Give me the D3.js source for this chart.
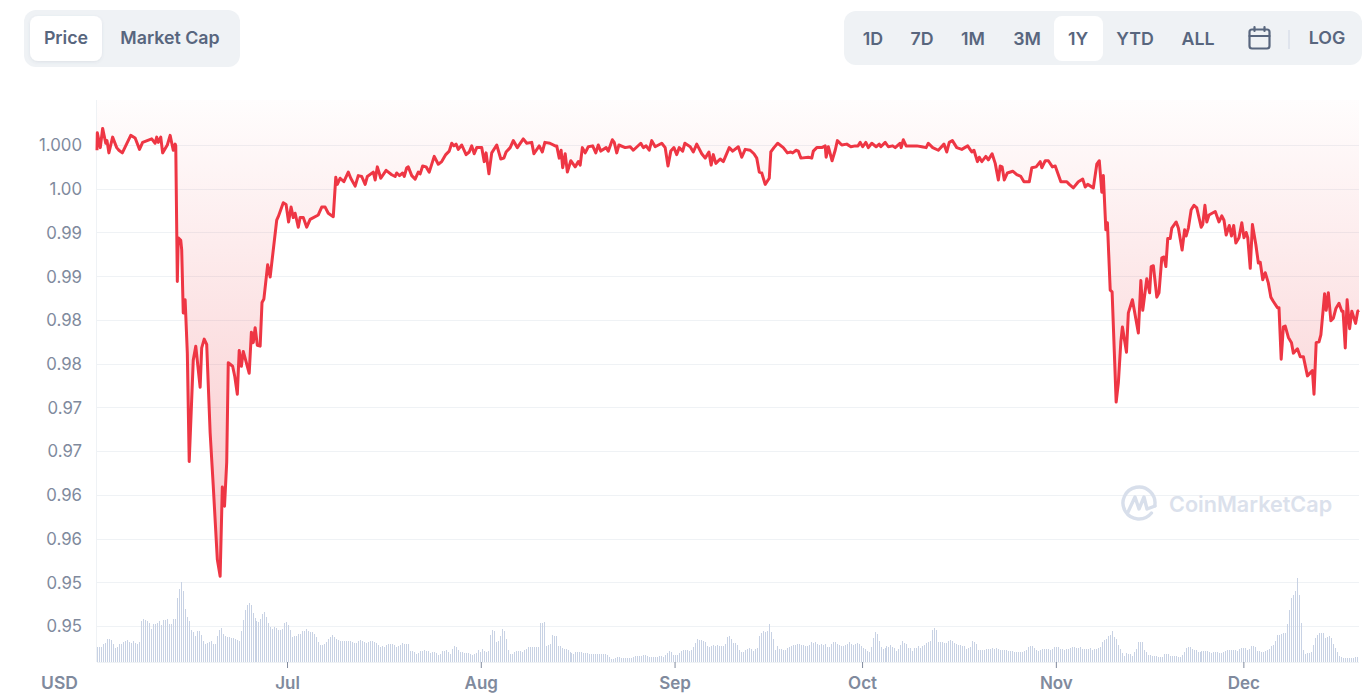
<!DOCTYPE html>
<html><head><meta charset="utf-8">
<script src="https://cdn.jsdelivr.net/npm/d3@7"></script>
<style>html,body{margin:0;padding:0;background:#fff;overflow:hidden}svg{display:block}text{font-family:Inter,sans-serif}</style>
</head><body><svg id="c" width="1370" height="697"></svg>
<script>
// [days since 1 Jun, price]
const pricePoints=[[-0.4,.9994],[-0.35,1.0014],[.13,.9997],[.5,1.0019],[1,1.0002],[1.2,1.0005],[1.5,.9991],[2.1,1.0009],[2.75,.9997],[3.1,.9994],[3.65,.9991],[5,1.0011],[5.7,1.0008],[6.4,.9995],[6.9,1.0003],[8.35,1.0007],[8.9,1.0002],[9.15,1.0009],[9.4,1.0003],[9.8,1.0009],[10.1,.9991],[10.85,1.0],[11.3,1.0011],[11.8,.9994],[12.1,1.0001],[12.2,.9999],
[12.45,.9844],[12.6,.9894],[13,.9891],[13.15,.988],[13.4,.9808],[13.7,.9823],[14.05,.9762],[14.35,.9638],[15,.9754],[15.4,.977],[16.1,.9723],[16.35,.9768],[16.75,.9778],[17.15,.9772],[17.7,.9671],[18.2,.961],[18.85,.9526],[19.3,.9507],[19.65,.9609],[20,.9587],[20.35,.9637],[20.6,.9751],[21.3,.9747],[21.65,.9735],[22.05,.9715],[22.35,.9765],[22.7,.9747],[23,.9764],[23.95,.9739],[24.3,.9786],[24.6,.9774],[24.9,.9791],[25.25,.9771],[25.7,.977],[26,.982],[26.3,.9824],[26.9,.9863],[27.3,.9849],[28.35,.9914],[28.6,.9918],[29.4,.9934],[29.85,.9932],[30.25,.9912],[30.65,.9929],[31,.9917],[31.3,.9922],[31.8,.9906],[32.1,.9917],[32.6,.9917],[33.15,.9906],[33.7,.9915],[35,.992],[35.55,.9929],[36.1,.9929],[36.6,.9922],[37.4,.9918],
[37.8,.9963],[38.05,.9955],[38.5,.9962],[39.1,.9958],[39.8,.9969],[40.2,.9962],[40.9,.9953],[41.4,.9965],[41.95,.9964],[42.5,.9955],[42.85,.9964],[43.8,.9969],[44.1,.996],[44.45,.9975],[45,.9962],[45.85,.9971],[46.75,.9966],[47.3,.9964],[47.55,.9968],[48,.9965],[48.5,.9968],[48.75,.9964],[49.15,.9974],[49.4,.9975],[49.95,.9965],[50.5,.9961],[51,.9969],[51.3,.9967],[51.7,.9976],[52.25,.9975],[52.75,.9969],[53.55,.9987],[54.2,.9978],[54.75,.9981],[55.4,.9989],[55.95,.9993],[56.35,1.0002],[56.7,.9999],[57.05,1.0001],[57.4,.9995],[57.95,1.0],[58.65,.9989],[59.15,.9992],[59.55,.9999],[59.95,.999],[60.35,.9997],[61.15,.9997],[61.55,.9981],[61.85,.9991],[62.3,.9967],[62.75,.9991],[63.55,1.0],[64.2,.9984],[64.7,.9985],[65.05,.9992],[65.7,.9997],[66.2,1.0005],[66.85,.9997],[67.8,1.0007],[68.35,1.0002],[69.15,1.0003],[69.5,.999],[70.35,.9999],[70.85,.9992],[71.25,1.0003],[72.05,1.0002],[72.9,.9999],[73.15,.9999],[73.55,.9985],
[73.85,.9994],[74.1,.9974],[74.5,.999],[74.85,.9969],[75.4,.9982],[76.1,.9975],[76.6,.9981],[76.9,.9977],[77.25,.9997],[77.7,.9991],[78.2,.9998],[78.9,.9999],[79.4,.9991],[79.8,1.0],[80.2,.9993],[81.05,.9997],[81.4,.9993],[82.05,1.0006],[82.35,1.0003],[82.75,.9991],[83.1,1.0],[84.1,.9997],[84.9,.9998],[85.4,.9994],[86.6,1.0002],[87,.9997],[87.45,.9999],[87.95,.9994],[88.35,1.0005],[88.9,.9998],[89.95,1.0002],[90.5,.9997],[90.95,.9976],[91.4,.9993],[91.9,.9997],[92.35,.9989],[92.75,.9997],[93.3,.9993],[93.65,1.0002],[94.5,.9998],[95,.9992],[95.55,1.0001],[96.35,.999],[96.9,.9985],[97.5,.9992],[97.85,.9977],[98.2,.9989],[98.6,.9979],[99.3,.9984],[99.8,.9981],[100.75,.9997],[101.3,.9993],[102.2,.9998],[102.75,.9986],[103.3,.9995],[104.1,.9994],[104.7,.999],[105.15,.9985],[105.55,.9969],[105.95,.9968],[106.5,.9955],[107.15,.9962],[107.4,.9992],[107.9,.9997],[108.5,1.0002],[109.4,.9997],[110.05,.9991],[110.6,.9992],[110.9,.9991],[111.45,.9994],[111.8,.9993],[112.2,.9985],[113.4,.9986],[113.95,.9985],[114.2,.9993],[114.75,.9997],[115.55,.9997],[116.1,.9999],[116.25,.9986],[116.6,.9998],
[117.2,.9982],[117.7,.9994],[118.05,1.0005],[118.75,1.0],[119.55,1.0001],[120.2,.9998],[120.9,.9999],[121.35,.9999],[121.7,1.0003],[122.1,.9998],[122.6,1.0003],[123,.9997],[123.55,1.0002],[124.25,.9998],[124.75,1.0001],[125,.9998],[125.7,1.0003],[126.2,.9998],[126.9,.9999],[127.3,.9997],[128.1,1.0002],[128.25,.9997],[128.6,1.0006],[129.05,.9999],[130.75,.9999],[131.55,.9998],[132.25,.9997],[132.6,1.0002],[133.3,.9997],[134.2,.9994],[135.1,1.0001],[135.55,.9992],[135.95,1.0003],[136.45,1.0005],[137.15,.9997],[137.95,.9995],[138.9,.9999],[139.55,.9992],[139.9,.9994],[140.45,.9981],[140.75,.9986],[141.15,.9981],[141.8,.9987],[142.2,.9983],[142.8,.999],[143.3,.9979],[143.8,.996],[144.1,.9976],[144.4,.9975],[144.75,.996],[145.25,.9968],[146.1,.997],[146.75,.9966],[147.4,.9964],[147.9,.9958],[148.75,.9958],[149.15,.9974],[149.85,.9975],[150.5,.9981],[150.75,.9974],[151.3,.9982],[151.8,.9982],[152.45,.9975],[152.9,.9976],[153.8,.9958],[154.75,.9958],[155.15,.9955],[155.8,.9951],[156.6,.9958],[157.3,.9961],[157.7,.9952],[158.1,.9955],[159,.9951],[159.55,.9978],[159.95,.9982],[160.35,.9946],[160.6,.9965],
[161,.9903],[161.25,.9911],[161.7,.9834],[162,.9832],[162.65,.9706],[163,.9728],[163.4,.9775],[163.65,.9792],[164.3,.9763],[164.6,.9808],[165.25,.9823],[166.2,.9785],[166.6,.9845],[166.9,.9811],[167.55,.9847],[168,.9831],[168.25,.9861],[168.6,.9862],[169.15,.9826],[169.5,.9831],[169.95,.9871],[170.3,.9872],[170.6,.9861],[170.9,.9893],[171.3,.9893],[171.55,.9905],[172.25,.9912],[172.6,.9905],[173.2,.988],[173.6,.9903],[173.85,.9896],[174.2,.9905],[174.65,.9926],[175.1,.9931],[175.55,.9928],[176.25,.9906],[176.5,.9909],[176.85,.9931],[177.15,.9912],[177.5,.992],[178.5,.9924],[179.1,.9912],[179.55,.9919],[179.9,.9914],[180.25,.9897],[180.75,.9908],[181.1,.9896],[181.45,.9908],[181.8,.9888],[182.3,.9894],[182.75,.9911],[183.1,.9894],[183.45,.99],[183.7,.9894],[184.1,.9859],[184.45,.9909],[185,.9886],[185.4,.9865],[185.7,.9866],[186.1,.9846],[186.5,.9854],[187,.9842],[187.4,.9826],[187.8,.9821],[188.45,.9814],[188.7,.9814],[189.05,.9755],[189.4,.9792],[189.7,.9793],[190.2,.978],[190.7,.9774],[191,.9762],[191.65,.9767],[192.1,.9758],[192.6,.9758],[193.25,.9736],[194.05,.9742],[194.3,.9715],[194.65,.9774],[195.1,.9775],[195.4,.9783],[196,.983],[196.25,.9811],[196.6,.9831],[197,.9799],[197.4,.9802],[197.8,.9813],[198.3,.9819],[198.75,.981],[198.95,.981],[199.3,.9768],[199.6,.9823],[200,.979],[200.35,.981],[200.95,.9796],[201.3,.981],[201.5,.9811]];

const volumes=[15,15,15,18,19,23,23,22,18,14,15,18,18,20,21,22,20,19,21,19,18,20,41,43,42,41,39,33,38,38,39,41,37,42,42,43,38,38,43,43,64,73,80,71,53,45,41,32,30,26,31,31,27,21,18,19,20,21,18,18,26,32,34,28,26,25,25,24,24,23,22,21,31,42,52,57,59,57,49,44,41,40,43,48,50,45,39,35,33,35,34,32,32,33,39,40,37,32,25,26,26,28,28,31,31,33,31,30,30,28,25,20,17,17,18,20,23,25,27,25,23,22,21,21,21,21,21,21,20,19,19,21,22,21,20,19,20,21,21,20,19,17,15,16,
15,17,18,18,18,17,15,16,17,19,18,18,18,11,11,10,8,9,11,11,12,11,11,9,10,10,9,7,8,11,11,12,10,8,13,16,15,12,10,10,9,9,9,8,7,8,9,12,10,13,11,10,11,27,32,31,20,21,26,33,31,23,12,8,8,10,11,11,11,10,12,13,15,15,15,15,15,15,39,39,40,16,17,18,27,26,26,16,16,14,13,13,12,10,9,8,10,10,10,10,9,9,9,8,8,8,8,8,8,8,8,8,7,5,3,3,4,5,5,4,4,4,4,4,4,5,6,6,6,6,7,7,6,5,5,5,5,5,6,6,5,7,9,11,10,7,7,7,9,11,12,12,12,11,12,15,19,23,22,22,21,20,16,15,16,17,16,17,16,16,16,18,25,26,23,19,19,17,12,10,10,
12,13,14,13,11,13,14,26,29,31,30,31,38,30,23,12,16,13,13,12,12,14,15,16,17,17,18,18,17,17,16,16,17,20,19,20,18,17,18,17,18,15,15,18,20,20,18,17,16,16,17,18,20,18,17,18,19,18,16,14,13,11,10,15,24,30,28,21,15,13,14,16,15,17,15,14,11,13,17,21,19,18,14,14,11,14,14,16,14,16,17,19,20,21,32,34,32,20,20,20,19,19,21,22,21,19,18,17,17,16,16,13,14,15,21,20,18,12,12,12,12,13,13,13,14,13,14,13,12,12,12,12,11,11,11,10,10,10,10,10,11,12,15,16,16,14,12,11,12,13,13,13,13,12,13,15,15,15,13,13,12,13,13,14,15,15,14,14,15,13,13,13,13,14,12,13,13,14,15,20,22,23,26,27,31,
25,23,17,13,9,6,9,8,8,6,10,13,20,20,20,12,10,7,7,6,6,6,5,5,5,8,8,8,6,6,6,6,5,5,7,10,14,15,15,13,12,12,10,10,11,11,11,11,10,9,10,10,10,9,9,10,11,12,12,12,12,12,11,13,14,14,14,12,13,16,16,15,11,11,10,10,11,12,13,16,17,21,27,27,28,29,29,38,52,64,67,71,84,67,39,12,8,9,9,10,17,24,27,29,29,29,24,25,26,24,18,14,10,6,5,4,4,4,4,4,4,5,5];

const yTickValues=[1.0,.995,.99,.985,.98,.975,.97,.965,.96,.955,.95,.945];
const yTickLabels=["1.000","1.00","0.99","0.99","0.98","0.98","0.97","0.97","0.96","0.96","0.95","0.95"];
const monthDays=[30,61,92,122,153,183];
const monthLabels=["Jul","Aug","Sep","Oct","Nov","Dec"];
const tabs=["Price","Market Cap"];
const ranges=["1D","7D","1M","3M","1Y","YTD","ALL"];

const dayMs=864e5, jun1=Date.UTC(2021,5,1), dayToDate=d=>new Date(jun1+d*dayMs);
const firstDay=-0.4,lastDay=201.5;
const L=97,R=1359,T=100,B=662;
const x=d3.scaleUtc().domain([dayToDate(firstDay),dayToDate(lastDay)]).range([L,R]);
const y=d3.scaleLinear().domain([1.0,.945]).range([145,626]);
const yVol=d3.scaleLinear().domain([0,84]).range([B,B-84]);
const svg=d3.select("#c");

// header controls
const pill=(px,py,w,h,r,f)=>svg.append("rect").attr("x",px).attr("y",py).attr("width",w).attr("height",h).attr("rx",r).attr("fill",f);
const label=(t,cx,cy,size=17.8)=>svg.append("text").attr("x",cx).attr("y",cy).attr("dy","0.36em").attr("text-anchor","middle").attr("font-size",size).attr("font-weight",600).attr("fill","#58667e").text(t);
pill(24,10,216,57,12,"#eff2f5");
svg.append("defs").append("filter").attr("id","sh").attr("x","-20%").attr("y","-20%").attr("width","140%").attr("height","150%").append("feDropShadow").attr("dx",0).attr("dy",1).attr("stdDeviation",1.5).attr("flood-color","#58667e").attr("flood-opacity",.12);
pill(30,16,72,45,8,"#fff").attr("filter","url(#sh)");
[66,170].forEach((c,i)=>label(tabs[i],c,38));
pill(844,11,518,54,12,"#eff2f5");
pill(1054,16,49,45,8,"#fff");
[873,922,973,1027,1078,1135,1198].forEach((c,i)=>label(ranges[i],c,39));
label("LOG",1327,38);
svg.append("line").attr("x1",1289).attr("x2",1289).attr("y1",30).attr("y2",49).attr("stroke","#cfd6e4");
const cal=svg.append("g").attr("fill","none").attr("stroke","#58667e").attr("stroke-width",2.2).attr("stroke-linecap","round");
cal.append("rect").attr("x",1249.5).attr("y",29.5).attr("width",20).attr("height",19).attr("rx",2.5);
cal.append("path").attr("d","M1249.5 36H1269.5M1254.5 27V31M1264.5 27V31");

// grid
svg.append("g").selectAll("line").data(yTickValues).join("line").attr("x1",L).attr("x2",R).attr("y1",d=>Math.round(y(d))+.5).attr("y2",d=>Math.round(y(d))+.5).attr("stroke","#eff2f5");
svg.append("line").attr("x1",L-.5).attr("x2",L-.5).attr("y1",T).attr("y2",B).attr("stroke","#eff2f5");
svg.append("line").attr("x1",L).attr("x2",R).attr("y1",B+.5).attr("y2",B+.5).attr("stroke","#eff2f5");

// gradient area above the price line
const grad=svg.select("defs").append("linearGradient").attr("id","g").attr("gradientUnits","userSpaceOnUse").attr("x1",0).attr("x2",0).attr("y1",T).attr("y2",582);
grad.append("stop").attr("offset",0).attr("stop-color","#ea3943").attr("stop-opacity",.01);
grad.append("stop").attr("offset",1).attr("stop-color","#ea3943").attr("stop-opacity",.3);
const px=d=>x(dayToDate(d[0])),py=d=>y(d[1]);
svg.append("path").datum(pricePoints).attr("fill","url(#g)").attr("d",d3.area().x(px).y0(T).y1(py));

// volume
const step=(lastDay-firstDay)/volumes.length;
svg.append("g").attr("shape-rendering","crispEdges").selectAll("rect").data(volumes).join("rect")
 .attr("x",(d,i)=>Math.round(x(dayToDate(firstDay+i*step))))
 .attr("width",1).attr("y",d=>yVol(d)).attr("height",d=>B-yVol(d)).attr("fill","#c8d2e4");

// watermark
const wm=svg.append("g").attr("fill","none").attr("stroke","#d8dfeb").attr("stroke-width",3.4).attr("stroke-linecap","round").attr("stroke-linejoin","round");
wm.append("path").attr("d",d3.arc()({innerRadius:16,outerRadius:16,startAngle:2.25,endAngle:2*Math.PI+1.75})).attr("transform","translate(1139,503)");
wm.append("path").attr("d","M1128 512L1135 497L1139 509L1144 497L1147 509L1155 506");
svg.append("text").attr("x",1169).attr("y",512).attr("font-size",21.6).attr("font-weight",600).attr("fill","#dbe1ec").text("CoinMarketCap");

// line
svg.append("path").datum(pricePoints).attr("fill","none").attr("stroke","#ee3644").attr("stroke-width",3).attr("stroke-linejoin","round").attr("d",d3.line().x(px).y(py));

// axes
const ax=svg.append("g").attr("transform",`translate(${L},0.5)`).call(d3.axisLeft(y).tickValues(yTickValues).tickSize(0).tickPadding(15).tickFormat((d,i)=>yTickLabels[i]));
ax.select(".domain").remove();
ax.selectAll("text").attr("font-family","Inter,sans-serif").attr("font-size",16.8).attr("fill","#808a9d");
const bx=svg.append("g").attr("transform",`translate(0,${B})`).call(d3.axisBottom(x).tickValues(monthDays.map(dayToDate)).tickSize(6).tickPadding(9).tickFormat((d,i)=>monthLabels[i]));
bx.select(".domain").remove();
bx.selectAll("line").attr("stroke","#808a9d");
bx.selectAll("text").attr("font-family","Inter,sans-serif").attr("font-size",17).attr("font-weight",600).attr("fill","#808a9d");
svg.append("text").attr("x",41).attr("y",688.5).attr("font-size",17.5).attr("font-weight",600).attr("fill","#808a9d").text("USD");
</script></body></html>
